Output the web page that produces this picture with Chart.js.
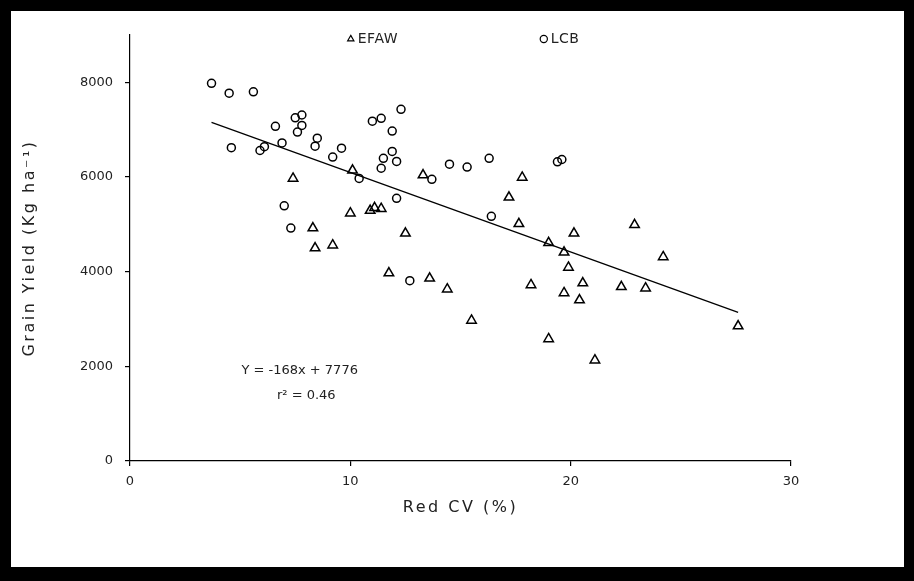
<!DOCTYPE html>
<html>
<head>
<meta charset="utf-8">
<script src="https://cdn.jsdelivr.net/npm/chart.js@4"></script>
<style>
  html, body { margin: 0; padding: 0; background: #000; }
  #wrap { position: absolute; left: 11px; top: 11px; width: 893px; height: 556px; background: #fff; }
</style>
</head>
<body>
<div id="wrap"><canvas id="scatterChart"></canvas></div>
<script>
// Datos (Red CV % vs rendimiento)
const efawX = [7.4, 10.1, 10.0, 10.9, 11.1, 11.4, 8.3, 8.4, 9.2, 12.5, 11.75, 13.6, 13.3, 17.8, 17.2, 17.65, 20.15,
               19.0, 22.9, 19.7, 19.9, 24.2, 14.4, 18.2, 20.55, 19.7, 20.4, 22.3, 23.4, 15.5, 19.0, 21.1, 27.6];
const efawY = [5970, 6140, 5235, 5290, 5350, 5330, 4920, 4500, 4560, 4810, 3970, 3860, 6040, 5990, 5570, 5010, 4810,
               4610, 4990, 4410, 4090, 4310, 3630, 3720, 3760, 3550, 3400, 3680, 3650, 2970, 2580, 2130, 2850];

const lcbX = [3.7, 4.5, 5.6, 4.6, 5.9, 6.1, 6.6, 6.9, 7.0, 7.3, 7.5, 7.8, 7.8, 7.6, 8.5, 8.4, 9.2, 9.6,
              10.4, 11.0, 11.4, 11.9, 12.3, 11.9, 11.5, 12.1, 11.4, 12.1, 13.7, 14.5, 15.3, 16.3, 16.4, 19.4, 19.6, 12.7];
const lcbY = [7980, 7770, 7800, 6620, 6560, 6640, 7070, 6720, 5390, 4920, 7250, 7310, 7090, 6950, 6820, 6650, 6420, 6610,
              5970, 7180, 7240, 6970, 7430, 6540, 6395, 6330, 6185, 5550, 5950, 6270, 6210, 6395, 5170, 6320, 6370, 3810];

// Linea de tendencia: Y = -168x + 7776
const trendSlope = -168;
const trendIntercept = 7776;
const trendX = [3.7, 27.6];

const xTicks = [0, 10, 20, 30];
const yTicks = [0, 2000, 4000, 6000, 8000];

const textColor = '#222';
const fontFamily = '"DejaVu Sans", Verdana, sans-serif';

const toPoints = (xs, ys) => xs.map((x, i) => ({ x: x, y: ys[i] }));

// Plugin para leyenda, ecuacion y titulos de ejes
const extras = {
    id: 'extras',
    afterDraw(chart) {
        const { ctx, chartArea, scales } = chart;
        const w = chartArea.right - chartArea.left;
        ctx.save();
        ctx.fillStyle = textColor;
        ctx.textBaseline = 'middle';

        // leyenda
        const legendAt = [0.334, 0.626];
        legendAt.forEach((f, i) => {
            const ds = chart.data.datasets[i];
            const x = chartArea.left + f * w;
            const y = chartArea.top + 4;
            ctx.save();
            ctx.strokeStyle = '#000';
            ctx.fillStyle = 'rgba(0,0,0,0)';
            ctx.lineWidth = 1.2;
            Chart.helpers.drawPoint(ctx, { pointStyle: ds.pointStyle, radius: 3.6, borderWidth: 1.2, rotation: 0 }, x, y);
            ctx.restore();
            ctx.font = '14px ' + fontFamily;
            ctx.letterSpacing = '0.5px';
            ctx.textAlign = 'left';
            ctx.fillText(ds.label, x + 7, y);
        });

        // ecuacion
        ctx.letterSpacing = '0px';
        ctx.font = '13px ' + fontFamily;
        ctx.textAlign = 'center';
        ctx.fillText('Y = -168x + 7776', scales.x.getPixelForValue(7.7), scales.y.getPixelForValue(1900));
        ctx.fillText('r² = 0.46', scales.x.getPixelForValue(8.0), scales.y.getPixelForValue(1390));

        // titulos de ejes
        ctx.font = '16px ' + fontFamily;
        ctx.letterSpacing = '2.5px';
        ctx.fillText('Red CV (%)', (chartArea.left + chartArea.right) / 2, chartArea.bottom + 47);
        ctx.translate(chartArea.left - 100, (chartArea.top + chartArea.bottom) / 2);
        ctx.rotate(-Math.PI / 2);
        ctx.fillText('Grain Yield (Kg ha⁻¹)', 0, 0);
        ctx.restore();
    }
};

const ctx = document.getElementById('scatterChart').getContext('2d');

const scatterChart = new Chart(ctx, {
    type: 'scatter',
    data: {
        datasets: [{
            label: 'EFAW',
            data: toPoints(efawX, efawY),
            pointStyle: 'triangle',
            pointRadius: 5.5,
            borderColor: '#000',
            backgroundColor: 'rgba(0,0,0,0)',
            borderWidth: 1.5
        }, {
            label: 'LCB',
            data: toPoints(lcbX, lcbY),
            pointStyle: 'circle',
            pointRadius: 4,
            borderColor: '#000',
            backgroundColor: 'rgba(0,0,0,0)',
            borderWidth: 1.5
        }, {
            type: 'line',
            label: 'Tendencia',
            data: trendX.map(x => ({ x: x, y: trendSlope * x + trendIntercept })),
            borderColor: '#000',
            borderWidth: 1.3,
            pointRadius: 0,
            fill: false
        }]
    },
    options: {
        responsive: true,
        maintainAspectRatio: false,
        animation: false,
        layout: { padding: { top: 24, right: 113, left: 0, bottom: 0 } },
        plugins: {
            legend: { display: false },
            tooltip: { enabled: false }
        },
        scales: {
            x: {
                type: 'linear',
                min: 0,
                max: 30,
                afterFit: s => { s.height = 106; },
                afterBuildTicks: axis => { axis.ticks = xTicks.map(v => ({ value: v })); },
                ticks: { color: textColor, font: { family: fontFamily, size: 13 }, padding: 8, callback: v => String(v) },
                grid: { drawOnChartArea: false, drawTicks: true, tickLength: 5, color: '#000', lineWidth: 1.2 },
                border: { color: '#000', width: 1.2 }
            },
            y: {
                min: 0,
                max: 9000,
                afterFit: s => { s.width = 119; },
                afterBuildTicks: axis => { axis.ticks = yTicks.map(v => ({ value: v })); },
                ticks: { color: textColor, font: { family: fontFamily, size: 13 }, padding: 12, callback: v => String(v) },
                grid: { drawOnChartArea: false, drawTicks: true, tickLength: 5, color: '#000', lineWidth: 1.2 },
                border: { color: '#000', width: 1.2 }
            }
        }
    },
    plugins: [extras]
});
</script>
</body>
</html>
